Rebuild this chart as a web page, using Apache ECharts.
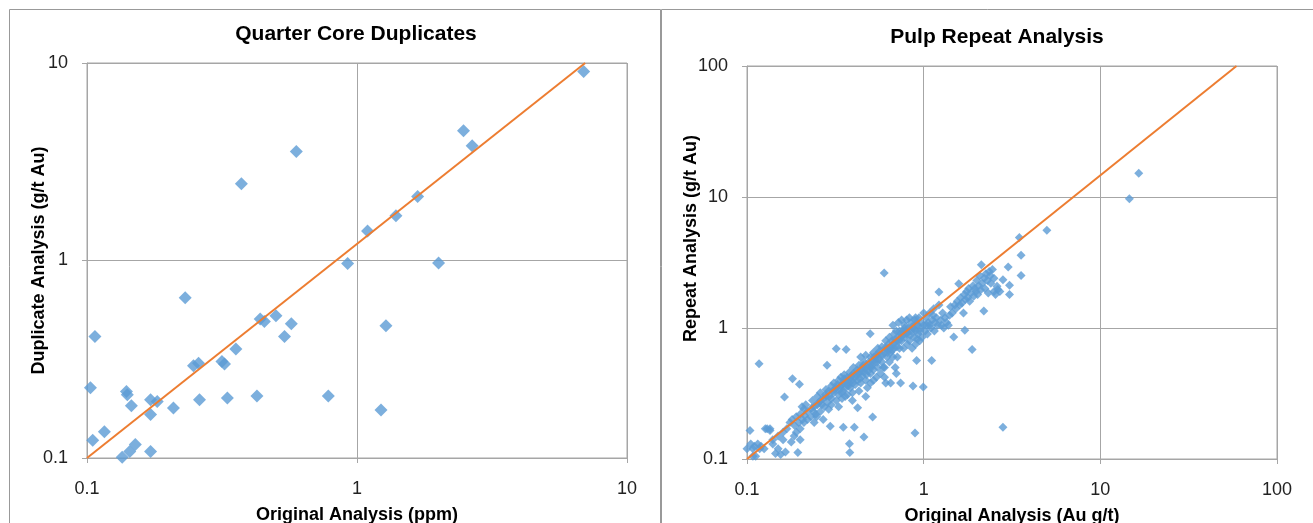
<!DOCTYPE html>
<html>
<head>
<meta charset="utf-8">
<script src="https://cdn.jsdelivr.net/npm/echarts@6/dist/echarts.min.js"></script>
<style>
  html, body { margin: 0; padding: 0; background: #fff; }
  #chart { width: 1313px; height: 523px; }
</style>
</head>
<body>
<div id="chart"></div>
<script>
// Quarter core duplicates: [original ppm, duplicate g/t Au]
const coreDuplicates = [
  [0.596, 3.56], [0.373, 2.45], [1.094, 1.41], [0.923, 0.966], [0.231, 0.647],
  [0.107, 0.412], [0.438, 0.505], [0.454, 0.491], [0.501, 0.525], [0.571, 0.478],
  [0.539, 0.412], [0.356, 0.356], [0.316, 0.308], [0.323, 0.299], [0.248, 0.293],
  [0.259, 0.302], [0.103, 0.227], [0.140, 0.217], [0.141, 0.209], [0.146, 0.184],
  [0.172, 0.197], [0.182, 0.193], [0.172, 0.166], [0.209, 0.179], [0.261, 0.197],
  [0.331, 0.201], [0.426, 0.206], [0.783, 0.206], [0.105, 0.123], [0.116, 0.136],
  [0.135, 0.101], [0.144, 0.108], [0.151, 0.117], [0.172, 0.108], [6.91, 9.06],
  [2.48, 4.54], [2.67, 3.81], [1.677, 2.11], [1.394, 1.684], [2.005, 0.97],
  [1.28, 0.467], [1.227, 0.175]
]
const coreTrend = [[0.1, 0.1], [7.0, 10]]

// Pulp repeats: [original Au g/t, repeat g/t Au]
const pulpRepeats = [
  // 0.1 - 0.13
  [0.1, 0.12], [0.104, 0.165], [0.105, 0.13], [0.108, 0.12], [0.11, 0.125], [0.112, 0.105],
  [0.115, 0.13], [0.118, 0.12], [0.12, 0.125], [0.117, 0.534], [0.108, 0.105], [0.125, 0.12],
  // 0.13 - 0.17
  [0.13, 0.17], [0.135, 0.165], [0.14, 0.14], [0.145, 0.11], [0.15, 0.12], [0.155, 0.108],
  [0.16, 0.14], [0.163, 0.297], [0.165, 0.113], [0.168, 0.17], [0.15, 0.15], [0.14, 0.13],
  [0.16, 0.16], [0.127, 0.17], [0.135, 0.17],
  // 0.17 - 0.22
  [0.175, 0.19], [0.181, 0.41], [0.18, 0.2], [0.185, 0.15], [0.19, 0.21], [0.194, 0.112],
  [0.198, 0.372], [0.2, 0.22], [0.2, 0.17], [0.205, 0.25], [0.21, 0.24], [0.21, 0.19],
  [0.215, 0.26], [0.22, 0.2], [0.19, 0.16], [0.2, 0.14], [0.178, 0.135], [0.212, 0.215],
  [0.186, 0.18], [0.196, 0.19], [0.206, 0.2],
  // 0.22 - 0.3
  [0.23, 0.21], [0.235, 0.28], [0.24, 0.25], [0.245, 0.22], [0.25, 0.3], [0.255, 0.27],
  [0.26, 0.23], [0.26, 0.32], [0.27, 0.29], [0.275, 0.25], [0.28, 0.34], [0.28, 0.3],
  [0.285, 0.27], [0.29, 0.33], [0.29, 0.24], [0.296, 0.178], [0.284, 0.52], [0.3, 0.36],
  [0.3, 0.29], [0.22, 0.23], [0.24, 0.19], [0.27, 0.2], [0.232, 0.245], [0.265, 0.26],
  [0.238, 0.23], [0.25, 0.26], [0.262, 0.28], [0.278, 0.31], [0.292, 0.3], [0.248, 0.21],
  // 0.3 - 0.4
  [0.31, 0.32], [0.31, 0.38], [0.32, 0.695], [0.32, 0.35], [0.32, 0.28], [0.33, 0.4],
  [0.33, 0.31], [0.34, 0.36], [0.34, 0.42], [0.345, 0.29], [0.35, 0.38], [0.35, 0.33],
  [0.351, 0.175], [0.355, 0.44], [0.36, 0.4], [0.364, 0.684], [0.36, 0.35], [0.37, 0.31],
  [0.37, 0.42], [0.382, 0.112], [0.38, 0.131], [0.38, 0.38], [0.38, 0.46], [0.385, 0.35],
  [0.39, 0.43], [0.39, 0.4], [0.395, 0.32], [0.4, 0.45], [0.4, 0.5], [0.3, 0.26],
  [0.33, 0.25], [0.36, 0.3], [0.395, 0.28], [0.315, 0.34], [0.345, 0.37], [0.375, 0.36],
  [0.305, 0.33], [0.325, 0.37], [0.335, 0.34], [0.355, 0.41], [0.365, 0.37], [0.372, 0.39],
  [0.388, 0.42], [0.398, 0.38], [0.342, 0.32],
  // 0.4 - 0.55
  [0.405, 0.175], [0.41, 0.42], [0.41, 0.37], [0.42, 0.48], [0.42, 0.4], [0.423, 0.246],
  [0.43, 0.52], [0.43, 0.45], [0.44, 0.38], [0.44, 0.6], [0.45, 0.5], [0.45, 0.43],
  [0.459, 0.147], [0.46, 0.55], [0.46, 0.46], [0.47, 0.4], [0.47, 0.62], [0.48, 0.5],
  [0.48, 0.35], [0.49, 0.55], [0.498, 0.905], [0.5, 0.45], [0.5, 0.6], [0.51, 0.52],
  [0.514, 0.209], [0.52, 0.65], [0.52, 0.48], [0.53, 0.55], [0.54, 0.42], [0.54, 0.62],
  [0.55, 0.7], [0.55, 0.5], [0.43, 0.33], [0.47, 0.3], [0.5, 0.38], [0.52, 0.4],
  [0.415, 0.44], [0.445, 0.47], [0.475, 0.44], [0.505, 0.5], [0.535, 0.58],
  [0.425, 0.46], [0.435, 0.41], [0.455, 0.52], [0.465, 0.49], [0.485, 0.47], [0.495, 0.51],
  [0.515, 0.56], [0.525, 0.6], [0.545, 0.55],
  // 0.55 - 0.75
  [0.56, 0.58], [0.56, 0.66], [0.57, 0.45], [0.58, 0.72], [0.58, 0.55], [0.598, 2.63],
  [0.6, 0.65], [0.6, 0.5], [0.61, 0.38], [0.61, 0.8], [0.62, 0.6], [0.62, 0.7],
  [0.63, 0.75], [0.64, 0.55], [0.64, 0.85], [0.65, 0.65], [0.65, 0.38], [0.66, 0.72],
  [0.66, 0.8], [0.67, 0.6], [0.67, 1.05], [0.68, 0.9], [0.68, 0.7], [0.69, 0.5],
  [0.7, 0.78], [0.7, 0.95], [0.71, 0.6], [0.72, 0.85], [0.72, 1.1], [0.73, 0.7],
  [0.74, 0.9], [0.74, 0.38], [0.75, 1.15], [0.75, 0.8], [0.59, 0.5], [0.6, 0.42],
  [0.7, 0.45], [0.57, 0.62], [0.63, 0.68], [0.69, 0.82], [0.73, 0.95],
  [0.585, 0.62], [0.605, 0.7], [0.625, 0.65], [0.645, 0.72], [0.665, 0.68], [0.685, 0.78],
  [0.705, 0.72], [0.725, 0.8], [0.745, 0.85],
  // 0.75 - 1.0
  [0.76, 0.95], [0.77, 0.7], [0.78, 1.05], [0.78, 0.85], [0.8, 1.15], [0.8, 0.9],
  [0.81, 0.75], [0.82, 1.0], [0.83, 1.2], [0.83, 0.8], [0.85, 0.95], [0.85, 1.1],
  [0.86, 0.7], [0.87, 0.36], [0.87, 1.0], [0.88, 0.85], [0.89, 1.15], [0.893, 0.158],
  [0.9, 0.95], [0.9, 0.75], [0.912, 0.566], [0.92, 1.05], [0.93, 0.9], [0.94, 1.2],
  [0.95, 0.8], [0.96, 1.0], [0.97, 1.1], [0.98, 0.85], [0.995, 0.355], [1.0, 1.05],
  [1.0, 1.3], [0.9, 1.2], [0.78, 1.0], [0.84, 0.88], [0.88, 0.98], [0.92, 0.82],
  [0.77, 0.9], [0.79, 0.95], [0.81, 0.92], [0.86, 1.02], [0.91, 1.08], [0.95, 0.95],
  // 1.0 - 1.5
  [1.02, 0.95], [1.03, 1.2], [1.05, 0.9], [1.06, 1.1], [1.08, 1.3], [1.1, 1.0],
  [1.11, 0.566], [1.12, 1.15], [1.14, 1.4], [1.15, 0.95], [1.18, 1.2], [1.2, 1.05],
  [1.22, 1.88], [1.22, 1.5], [1.25, 1.15], [1.28, 1.3], [1.3, 1.0], [1.32, 1.2],
  [1.35, 1.1], [1.38, 1.05], [1.4, 1.25], [1.42, 1.45], [1.45, 1.3], [1.48, 0.853],
  [1.5, 1.5], [1.08, 1.05], [1.16, 1.1], [1.26, 1.05], [1.04, 1.05], [1.13, 1.25],
  // 1.5 - 2.5
  [1.52, 1.4], [1.55, 1.6], [1.58, 2.18], [1.6, 1.5], [1.62, 1.7], [1.65, 1.55],
  [1.68, 1.3], [1.7, 1.8], [1.71, 0.96], [1.72, 1.65], [1.75, 1.9], [1.78, 1.7],
  [1.8, 2.0], [1.82, 1.6], [1.85, 1.85], [1.88, 0.684], [1.9, 2.1], [1.92, 1.75],
  [1.95, 2.0], [1.98, 1.9], [2.0, 2.3], [2.02, 1.8], [2.05, 2.1], [2.08, 2.5],
  [2.1, 1.95], [2.12, 3.04], [2.15, 2.2], [2.19, 1.35], [2.2, 2.4], [2.22, 2.0],
  [2.25, 2.6], [2.3, 2.3], [2.32, 1.85], [2.35, 2.7], [2.38, 2.5], [2.4, 2.2],
  [2.45, 2.8], [2.5, 2.4], [2.5, 1.9],
  // above 2.5
  [2.6, 2.08], [2.63, 1.97], [2.81, 2.34], [2.81, 0.175], [3.01, 2.92], [3.06, 1.8],
  [3.06, 2.12], [3.48, 4.9], [3.56, 3.59], [3.56, 2.52], [4.98, 5.57], [14.6, 9.7],
  [16.5, 15.2], [2.55, 1.8], [2.7, 1.9]
]
const pulpTrend = [[0.1, 0.1], [59, 100]]

const titles = ['Quarter Core Duplicates', 'Pulp Repeat Analysis']
const xNames = ['Original Analysis (ppm)', 'Original Analysis (Au g/t)']
const yNames = ['Duplicate Analysis (g/t Au)', 'Repeat Analysis (g/t Au)']
const xRanges = [[0.1, 10], [0.1, 100]]
const yRanges = [[0.1, 10], [0.1, 100]]

const FONT = '"Liberation Sans", Arial, sans-serif'
const GRID_COLOR = '#a6a6a6'
const BLUE = '#5b9bd5'
const ORANGE = '#ed7d31'

const grids = [
  { left: 87, top: 63, width: 540, height: 395 },
  { left: 747, top: 66, width: 530, height: 393 },
]

const nameStyle = { fontFamily: FONT, fontSize: 18, fontWeight: 'bold', color: '#000' }
const titleStyle = { fontFamily: FONT, fontSize: 21, fontWeight: 'bold', color: '#000' }

function logAxis(range, name, gap, margin, extra) {
  return Object.assign({
    type: 'log',
    logBase: 10,
    min: range[0],
    max: range[1],
    name,
    nameLocation: 'middle',
    nameGap: gap,
    nameMoveOverlap: false,
    nameTextStyle: nameStyle,
    axisLine: { show: true, lineStyle: { color: GRID_COLOR, width: 1 } },
    axisTick: { show: true, inside: false, length: 5, lineStyle: { color: GRID_COLOR } },
    minorTick: { show: false },
    axisLabel: { fontFamily: FONT, fontSize: 18, color: '#222', margin },
    splitLine: { show: true, lineStyle: { color: GRID_COLOR, width: 1 } },
  }, extra)
}

const chart = echarts.init(document.getElementById('chart'), null, { renderer: 'canvas' })

chart.setOption({
  animation: false,
  backgroundColor: '#fff',
  title: [
    { text: titles[0], left: 351, top: 19, textAlign: 'center', textStyle: titleStyle },
    { text: titles[1], left: 992, top: 22, textAlign: 'center', textStyle: titleStyle },
  ],
  graphic: [
    { type: 'rect', shape: { x: 9.5, y: 9.5, width: 651, height: 600 },
      style: { fill: 'none', stroke: '#999', lineWidth: 1 }, silent: true },
    { type: 'rect', shape: { x: 661.5, y: 9.5, width: 660, height: 600 },
      style: { fill: 'none', stroke: '#999', lineWidth: 1 }, silent: true },
  ],
  grid: grids.map((g) => Object.assign({
    show: true, borderColor: GRID_COLOR, borderWidth: 1,
    containLabel: false, outerBoundsMode: 'none',
  }, g)),
  xAxis: [
    logAxis(xRanges[0], xNames[0], 48, 22, { gridIndex: 0 }),
    logAxis(xRanges[1], xNames[1], 48, 22, { gridIndex: 1 }),
  ],
  yAxis: [
    logAxis(yRanges[0], yNames[0], 39, 19, { gridIndex: 0 }),
    logAxis(yRanges[1], yNames[1], 47, 19, {
      gridIndex: 1,
      nameTextStyle: Object.assign({}, nameStyle, { padding: [0, 0, 0, 48] }),
    }),
  ],
  series: [
    {
      type: 'scatter', xAxisIndex: 0, yAxisIndex: 0,
      data: coreDuplicates, symbol: 'diamond', symbolSize: 13,
      itemStyle: { color: BLUE }, z: 2,
    },
    {
      type: 'line', xAxisIndex: 0, yAxisIndex: 0,
      data: coreTrend, symbol: 'none',
      lineStyle: { color: ORANGE, width: 2 }, z: 3,
    },
    {
      type: 'scatter', xAxisIndex: 1, yAxisIndex: 1,
      data: pulpRepeats, symbol: 'diamond', symbolSize: 9,
      itemStyle: { color: BLUE }, z: 2,
    },
    {
      type: 'line', xAxisIndex: 1, yAxisIndex: 1,
      data: pulpTrend, symbol: 'none',
      lineStyle: { color: ORANGE, width: 2 }, z: 3,
    },
  ],
})
</script>
</body>
</html>
